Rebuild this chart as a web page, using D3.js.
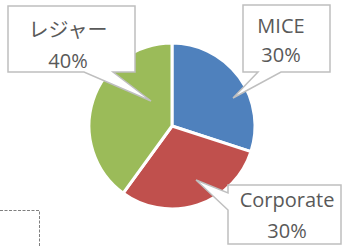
<!DOCTYPE html>
<html>
<head>
<meta charset="utf-8">
<script src="https://cdn.jsdelivr.net/npm/d3@7"></script>
<style>
  body{margin:0;background:#fff;}
  svg{display:block;}
</style>
</head>
<body>
<div class="canvas"></div>
<script>
// data
const categories=['MICE','Corporate','レジャー'];
const shares=[30,30,40];
const colours=['#4F81BD','#C0504D','#9BBB59'];

const dims={width:342,height:246,radius:83};
const cent={x:172,y:126};

// callout layout (box, pointer tip, text centre/baselines)
const callouts={
  'MICE':{box:[243,5,330,72],ptr:{side:'bottom',a:281,b:258,tip:[233,98]},tx:281,ty:[33,62]},
  'Corporate':{box:[228,185,341,244],ptr:{side:'left',a:210,b:193,tip:[196,180]},tx:287,ty:[207,238]},
  'レジャー':{box:[8,6,135,72],ptr:{side:'bottom',a:113,b:84,tip:[151,101]},tx:68,ty:[37,68]}
};

const data=categories.map((c,i)=>({name:c,value:shares[i]}));

const svg=d3.select('.canvas')
  .append('svg')
  .attr('width',dims.width)
  .attr('height',dims.height);

svg.append('rect')
  .attr('width',dims.width).attr('height',dims.height)
  .attr('fill','#fff');

// dashed outline in the corner (legend placeholder)
svg.append('path')
  .attr('d','M0,210.5 H39.5 V246')
  .attr('fill','none')
  .attr('stroke','#7f7f7f')
  .attr('stroke-width',1)
  .attr('stroke-dasharray','3,1.5');

const graph=svg.append('g')
  .attr('transform',`translate(${cent.x},${cent.y})`);

const pie=d3.pie()
  .sort(null)
  .value(d=>d.value);

const arcPath=d3.arc()
  .outerRadius(dims.radius)
  .innerRadius(0);

const colour=d3.scaleOrdinal()
  .domain(categories)
  .range(colours);

const total=d3.sum(shares);

graph.selectAll('path')
  .data(pie(data))
  .enter()
  .append('path')
  .attr('d',arcPath)
  .attr('fill',d=>colour(d.data.name))
  .attr('stroke','#fff')
  .attr('stroke-width',3)
  .attr('stroke-linejoin','round');

// callout shape
const calloutPath=c=>{
  const [x0,y0,x1,y1]=c.box;
  const p=c.ptr;
  if(p.side==='bottom'){
    return `M${x0},${y0} H${x1} V${y1} H${p.a} L${p.tip[0]},${p.tip[1]} L${p.b},${y1} H${x0} Z`;
  }
  return `M${x0},${y0} H${x1} V${y1} H${x0} V${p.a} L${p.tip[0]},${p.tip[1]} L${x0},${p.b} Z`;
};

const labels=svg.selectAll('g.label')
  .data(data)
  .enter()
  .append('g')
  .attr('class','label');

labels.append('path')
  .attr('d',d=>calloutPath(callouts[d.name]))
  .attr('fill','#fff')
  .attr('stroke','#bfbfbf')
  .attr('stroke-width',1.5)
  .attr('stroke-linejoin','miter');

labels.append('text')
  .attr('x',d=>callouts[d.name].tx)
  .attr('y',d=>callouts[d.name].ty[0])
  .attr('text-anchor','middle')
  .attr('font-family',"'Open Sans','Noto Sans CJK JP',sans-serif")
  .attr('font-size',20)
  .attr('fill','#595959')
  .text(d=>d.name);

labels.append('text')
  .attr('x',d=>callouts[d.name].tx)
  .attr('y',d=>callouts[d.name].ty[1])
  .attr('text-anchor','middle')
  .attr('font-family',"'Open Sans',sans-serif")
  .attr('font-size',20)
  .attr('fill','#595959')
  .text(d=>d3.format('.0%')(d.value/total));
</script>
</body>
</html>
